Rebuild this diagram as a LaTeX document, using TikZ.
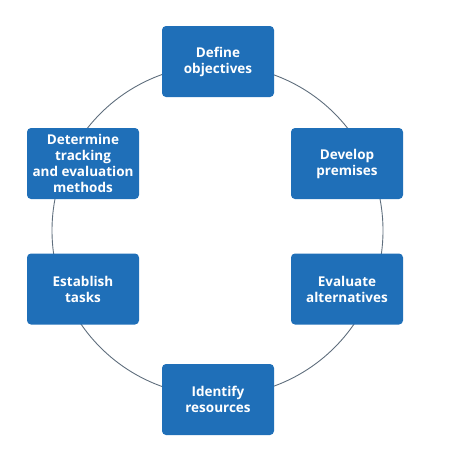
\documentclass[tikz,border=0pt]{standalone}
\usepackage{fontspec}
\setmainfont{Open Sans}
\usetikzlibrary{positioning}
\definecolor{stepblue}{RGB}{31,111,184}
\definecolor{ringgray}{RGB}{95,110,125}

\begin{document}
\begin{tikzpicture}[
        x=1pt, y=-1pt,
        stage/.style={rectangle, rounded corners=4pt, fill=stepblue, text=white, minimum width=112pt, minimum height=71pt, align=center, font=\fontsize{13.5}{16}\selectfont\bfseries, inner sep=2pt},
        ring/.style={draw=ringgray, line width=0.9pt}
    ]
    \useasboundingbox (0,0) rectangle (450,450);
    
    \draw[ring] (217.5,230.5) circle[radius=165.5];
    
    \node[stage] (Objectives) at (218,61.5) {Define\\objectives};
    \node[stage] (Premises) at (347,163.5) {Develop\\premises};
    \node[stage] (Alternatives) at (347,289) {Evaluate\\alternatives};
    \node[stage] (Resources) at (218,399.5) {Identify\\resources};
    \node[stage] (Tasks) at (83,289) {Establish\\tasks};
    \node[stage] (Tracking) at (83,163.5) {Determine\\tracking\\and evaluation\\methods};
    
    \end{tikzpicture}
\end{document}
